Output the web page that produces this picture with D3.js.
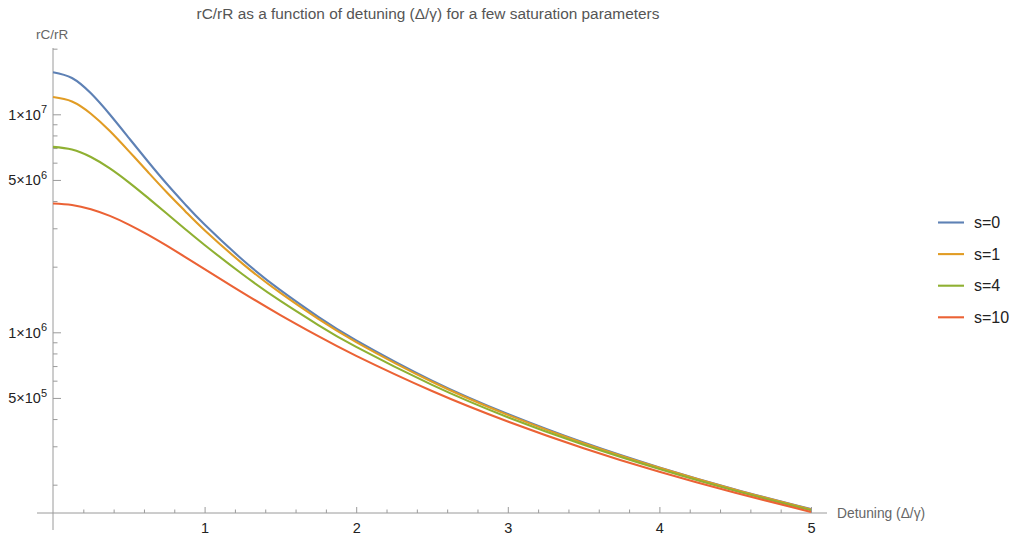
<!DOCTYPE html>
<html>
<head>
<meta charset="utf-8">
<script src="https://cdn.jsdelivr.net/npm/d3@7"></script>
<style>
  body { margin: 0; background: #fff; }
  svg { font-family: "Liberation Sans", Arial, sans-serif; }
</style>
</head>
<body>
<svg id="chart" width="1016" height="537"></svg>
<script>
// Detuning Δ/γ sample positions
const detuning = [0, 0.125, 0.25, 0.375, 0.5, 0.625, 0.75, 0.875, 1, 1.25, 1.5, 1.75, 2, 2.5, 3, 3.5, 4, 4.5, 5];

// rC/rR for each saturation parameter
const ratioS0  = [15.6e6, 14.68e6, 12.48e6, 9.98e6, 7.8e6, 6.09e6, 4.8e6, 3.84e6, 3.12e6, 2.152e6, 1.56e6, 1.177e6, 9.18e5, 6.0e5, 4.22e5, 3.12e5, 2.4e5, 1.902e5, 1.545e5];
const ratioS1  = [12.0e6, 11.45e6, 10.06e6, 8.38e6, 6.78e6, 5.45e6, 4.39e6, 3.576e6, 2.94e6, 2.066e6, 1.515e6, 1.151e6, 9.02e5, 5.93e5, 4.18e5, 3.10e5, 2.39e5, 1.896e5, 1.540e5];
const ratioS4  = [7.09e6, 6.895e6, 6.37e6, 5.65e6, 4.875e6, 4.146e6, 3.506e6, 2.964e6, 2.516e6, 1.846e6, 1.393e6, 1.080e6, 8.57e5, 5.74e5, 4.08e5, 3.05e5, 2.36e5, 1.875e5, 1.526e5];
const ratioS10 = [3.9e6, 3.84e6, 3.67e6, 3.42e6, 3.12e6, 2.805e6, 2.496e6, 2.209e6, 1.95e6, 1.522e6, 1.2e6, 9.6e5, 7.8e5, 5.38e5, 3.9e5, 2.94e5, 2.29e5, 1.835e5, 1.5e5];

const seriesNames = ["s=0", "s=1", "s=4", "s=10"];
const seriesColors = ["#5E81B5", "#E19C24", "#8FB032", "#EB6235"];

// Axis ticks
const xMajorTicks = [1, 2, 3, 4, 5];
const xMinorTicks = [0.2, 0.4, 0.6, 0.8, 1.2, 1.4, 1.6, 1.8, 2.2, 2.4, 2.6, 2.8, 3.2, 3.4, 3.6, 3.8, 4.2, 4.4, 4.6, 4.8];
const yMajorTicks = [5e5, 1e6, 5e6, 1e7];
const yMinorTicks = [2e5, 3e5, 4e5, 6e5, 7e5, 8e5, 9e5, 2e6, 3e6, 4e6, 6e6, 7e6, 8e6, 9e6, 2e7];

const titleText = "rC/rR as a function of detuning (Δ/γ) for a few saturation parameters";
const xLabel = "Detuning (Δ/γ)";
const yLabel = "rC/rR";

const svg = d3.select("#chart");

const x = d3.scaleLinear().domain([0, 5]).range([53, 811]);
const y = d3.scaleLog().domain([1.483e5, 2.008e7]).range([513, 48.3]);

const axisColor = "#9a9a9a";
const labelColor = "#222";
const textGray = "#666";

// Title
svg.append("text")
  .attr("x", 428).attr("y", 19)
  .attr("text-anchor", "middle")
  .attr("font-size", 15.4)
  .attr("fill", "#555")
  .text(titleText);

// X axis ticks (pointing up into the plot)
svg.append("g").attr("transform", `translate(0,${y.range()[0]})`)
  .call(d3.axisBottom(x).tickValues(xMajorTicks).tickSize(-6).tickPadding(10).tickFormat(d3.format("d")))
  .call(g => g.select(".domain").remove())
  .call(g => g.selectAll(".tick line").attr("stroke", axisColor))
  .call(g => g.selectAll(".tick text").attr("fill", labelColor).attr("font-size", 14.5)
      .attr("font-family", "Liberation Sans, Arial, sans-serif"));
svg.append("g").attr("transform", `translate(0,${y.range()[0]})`)
  .call(d3.axisBottom(x).tickValues(xMinorTicks).tickSize(-3.5).tickFormat(""))
  .call(g => g.select(".domain").remove())
  .call(g => g.selectAll(".tick line").attr("stroke", axisColor));

// Y axis ticks (pointing right into the plot)
svg.append("g").attr("transform", `translate(${x(0)},0)`)
  .call(d3.axisLeft(y).tickValues(yMajorTicks).tickSize(-8).tickFormat(""))
  .call(g => g.select(".domain").remove())
  .call(g => g.selectAll(".tick line").attr("stroke", axisColor));
svg.append("g").attr("transform", `translate(${x(0)},0)`)
  .call(d3.axisLeft(y).tickValues(yMinorTicks).tickSize(-4.5).tickFormat(""))
  .call(g => g.select(".domain").remove())
  .call(g => g.selectAll(".tick line").attr("stroke", axisColor));

// Y tick labels as m×10^e
yMajorTicks.forEach(v => {
  const e = Math.floor(Math.log10(v) + 1e-9);
  const m = Math.round(v / Math.pow(10, e));
  const t = svg.append("text")
    .attr("x", 47).attr("y", y(v) + 5.5)
    .attr("text-anchor", "end")
    .attr("font-size", 14.5)
    .attr("fill", labelColor);
  t.append("tspan").text(`${m}×10`);
  t.append("tspan").attr("dy", -6.5).attr("font-size", 11).text(e);
});

// Axis lines
svg.append("line")
  .attr("x1", 37).attr("x2", 827)
  .attr("y1", y.range()[0]).attr("y2", y.range()[0])
  .attr("stroke", axisColor).attr("stroke-width", 1);
svg.append("line")
  .attr("x1", x(0)).attr("x2", x(0))
  .attr("y1", 48).attr("y2", 530)
  .attr("stroke", axisColor).attr("stroke-width", 1);

// Axis labels
svg.append("text")
  .attr("x", 837).attr("y", y.range()[0] + 5)
  .attr("font-size", 13.8).attr("fill", textGray)
  .text(xLabel);
svg.append("text")
  .attr("x", 36).attr("y", 39)
  .attr("font-size", 13.5).attr("fill", textGray)
  .text(yLabel);

// Curves
const seriesValues = [ratioS0, ratioS1, ratioS4, ratioS10];
const line = d3.line()
  .x((d, i) => x(detuning[i]))
  .y(d => y(d))
  .curve(d3.curveNatural);

seriesValues.forEach((vals, k) => {
  svg.append("path")
    .attr("d", line(vals))
    .attr("fill", "none")
    .attr("stroke", seriesColors[k])
    .attr("stroke-width", 2.1)
    .attr("stroke-linejoin", "round");
});

// Legend
const legend = svg.append("g");
seriesNames.forEach((name, k) => {
  const ly = 222.5 + k * 31.6;
  legend.append("line")
    .attr("x1", 938).attr("x2", 964)
    .attr("y1", ly).attr("y2", ly)
    .attr("stroke", seriesColors[k]).attr("stroke-width", 2.1);
  legend.append("text")
    .attr("x", 974).attr("y", ly + 5.5)
    .attr("font-size", 16).attr("fill", labelColor)
    .text(name);
});
</script>
</body>
</html>
